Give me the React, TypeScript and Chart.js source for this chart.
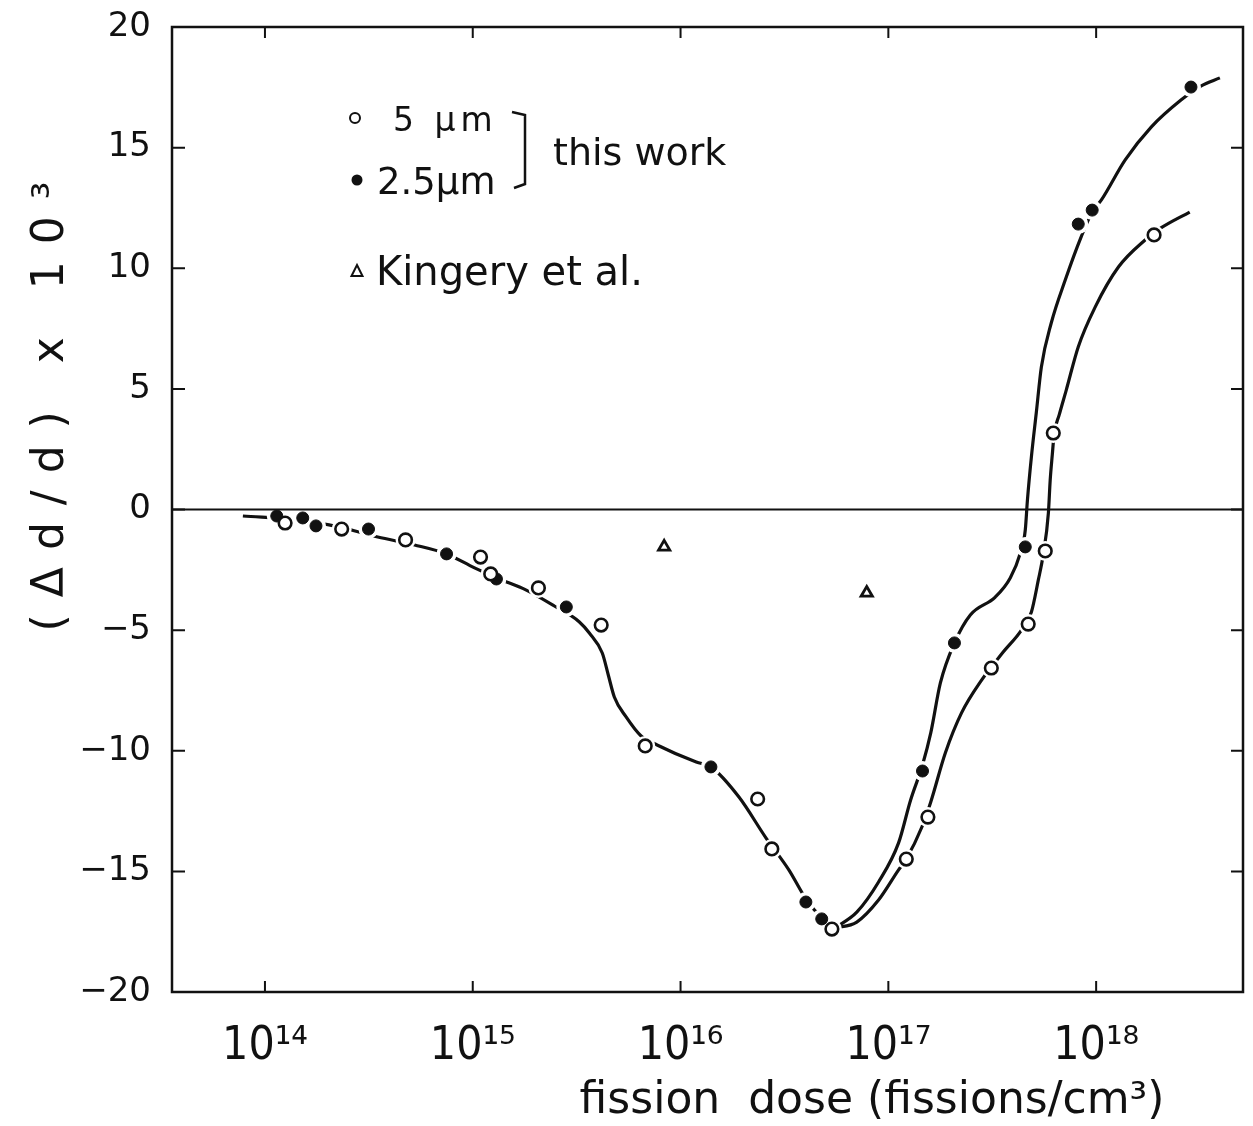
import React, { useEffect, useRef } from "react";
import { Chart, registerables } from "chart.js";

Chart.register(...registerables);

// ---- data (fission dose in fissions/cm3, shift (Δd/d) x 10^3) ----
const openDose = [1.25e14, 2.34e14, 4.75e14, 1.09e15, 1.22e15, 2.07e15, 4.15e15, 6.76e15, 2.35e16, 2.75e16, 5.35e16, 1.22e17, 1.55e17, 3.13e17, 4.71e17, 5.69e17, 6.22e17, 1.9e18];
const openShift = [-0.56, -0.81, -1.26, -1.97, -2.67, -3.25, -4.79, -9.8, -12.0, -14.07, -17.39, -14.49, -12.75, -6.57, -4.75, -1.72, 3.17, 11.38];

const filledDose = [1.14e14, 1.52e14, 1.76e14, 3.15e14, 7.48e14, 1.3e15, 2.82e15, 1.4e16, 4.01e16, 4.78e16, 1.46e17, 2.08e17, 4.56e17, 8.2e17, 9.57e17, 2.86e18];
const filledShift = [-0.27, -0.35, -0.68, -0.81, -1.84, -2.88, -4.04, -10.67, -16.27, -16.97, -10.84, -5.53, -1.55, 11.83, 12.41, 17.51];

const kingeryDose = [8.34e15, 7.87e16];
const kingeryShift = [-1.55, -3.46];

// hand-drawn guide curves
const trunkDose = [7.83e13, 1.47e14, 2.29e14, 3.49e14, 5.25e14, 7.48e14, 1.02e15, 1.34e15, 1.81e15, 2.47e15, 3.26e15, 3.64e15, 4.2e15, 4.49e15, 4.8e15, 5.47e15, 6.46e15, 7.71e15, 1.19e16, 1.4e16, 1.91e16, 2.58e16, 3.32e16, 4.01e16, 4.78e16, 5.52e16];
const trunkShift = [-0.27, -0.44, -0.73, -1.14, -1.47, -1.84, -2.42, -2.88, -3.34, -4.0, -4.66, -5.12, -5.95, -6.86, -7.77, -8.6, -9.39, -9.76, -10.47, -10.67, -11.92, -13.62, -14.94, -16.14, -16.93, -17.35];

const upperDose = [5.52e16, 7.05e16, 8.97e16, 1.12e17, 1.28e17, 1.46e17, 1.6e17, 1.78e17, 2.08e17, 2.48e17, 3.27e17, 3.86e17, 4.32e17, 4.56e17, 4.67e17, 4.88e17, 5.15e17, 5.45e17, 6.08e17, 7.1e17, 8.47e17, 9.57e17, 1.06e18, 1.38e18, 1.84e18, 2.56e18, 3.19e18, 3.94e18];
const upperShift = [-17.35, -16.69, -15.44, -13.82, -12.04, -10.59, -9.26, -7.19, -5.53, -4.37, -3.63, -2.84, -1.8, -0.85, 0.39, 2.18, 4.0, 5.91, 7.73, 9.51, 11.3, 12.33, 12.83, 14.49, 15.85, 16.97, 17.55, 17.89];

const lowerDose = [5.52e16, 7.05e16, 8.97e16, 1.12e17, 1.22e17, 1.45e17, 1.6e17, 1.88e17, 2.25e17, 2.81e17, 3.57e17, 4.37e17, 4.88e17, 5.27e17, 5.56e17, 5.89e17, 6.01e17, 6.15e17, 6.28e17, 6.64e17, 7.18e17, 8.2e17, 9.89e17, 1.28e18, 1.72e18, 2.05e18, 2.82e18];
const lowerShift = [-17.35, -17.1, -16.19, -14.94, -14.49, -13.16, -12.12, -10.09, -8.43, -7.07, -5.91, -5.0, -4.25, -2.92, -1.89, -0.15, 1.22, 2.26, 3.13, 3.92, 4.95, 6.74, 8.39, 10.05, 11.17, 11.67, 12.33];

const xTickValues = [1e14, 1e15, 1e16, 1e17, 1e18];
const xTickLabels = ["10\u00b9\u2074", "10\u00b9\u2075", "10\u00b9\u2076", "10\u00b9\u2077", "10\u00b9\u2078"];
const yTickValues = [-20, -15, -10, -5, 0, 5, 10, 15, 20];
const yTickLabels = ["\u221220", "\u221215", "\u221210", "\u22125", "0", "5", "10", "15", "20"];

const xMin = 3.57e13;
const xMax = 5.09e18;
const yMin = -20;
const yMax = 20;

const xTitle = "fission  dose (fissions/cm\u00b3)";
const yTitle = "(\u0394d/d) x 10\u00b3";
const legendOpen = "5 \u00b5m";
const legendFilled = "2.5\u00b5m";
const legendGroup = "this work";
const legendKingery = "Kingery et al.";

const INK = "#111111";

const pts = (xs: number[], ys: number[]) => xs.map((x, i) => ({ x, y: ys[i] }));

export default function App() {
  const ref = useRef<HTMLCanvasElement | null>(null);

  useEffect(() => {
    const canvas = ref.current;
    if (!canvas) return;

    const HALO_INDEX = 3;

    const decor = {
      id: "decor",
      afterDatasetDraw(chart: any, args: any) {
        if (args.index !== HALO_INDEX) return;
        const { ctx, chartArea } = chart;
        const y0 = chart.scales.y.getPixelForValue(0);
        ctx.save();
        ctx.strokeStyle = INK;
        ctx.lineWidth = 2;
        ctx.beginPath();
        ctx.moveTo(chartArea.left, y0);
        ctx.lineTo(chartArea.right, y0);
        ctx.stroke();
        ctx.restore();
      },
      afterDraw(chart: any) {
        const { ctx, chartArea } = chart;
        const { left, right, top, bottom } = chartArea;
        const xs = chart.scales.x;
        const ys = chart.scales.y;
        ctx.save();
        ctx.strokeStyle = INK;
        ctx.fillStyle = INK;
        ctx.lineWidth = 2.5;
        ctx.strokeRect(left, top, right - left, bottom - top);
        // inward ticks
        ctx.lineWidth = 2;
        ctx.beginPath();
        xTickValues.forEach((v) => {
          const px = xs.getPixelForValue(v);
          ctx.moveTo(px, bottom);
          ctx.lineTo(px, bottom - 11);
          ctx.moveTo(px, top);
          ctx.lineTo(px, top + 11);
        });
        yTickValues.forEach((v) => {
          const py = ys.getPixelForValue(v);
          ctx.moveTo(left, py);
          ctx.lineTo(left + 13, py);
          ctx.moveTo(right, py);
          ctx.lineTo(right - 12, py);
        });
        ctx.stroke();

        // axis titles
        ctx.textBaseline = "alphabetic";
        ctx.textAlign = "center";
        ctx.font = "44px 'DejaVu Sans'";
        ctx.fillText(xTitle, 872, 1113, 585);

        ctx.save();
        ctx.translate(63, 398);
        ctx.rotate(-Math.PI / 2);
        ctx.font = "44px 'DejaVu Sans'";
        (ctx as any).letterSpacing = "17px";
        ctx.fillText(yTitle, 0, 0);
        ctx.restore();

        // legend
        ctx.textAlign = "left";
        ctx.lineWidth = 2;
        ctx.beginPath();
        ctx.arc(355, 118, 5, 0, Math.PI * 2);
        ctx.stroke();
        ctx.beginPath();
        ctx.arc(357, 180, 5.5, 0, Math.PI * 2);
        ctx.fill();
        ctx.beginPath();
        ctx.moveTo(357, 265);
        ctx.lineTo(362.5, 276);
        ctx.lineTo(351.5, 276);
        ctx.closePath();
        ctx.stroke();

        ctx.save();
        ctx.font = "33px 'DejaVu Sans'";
        (ctx as any).letterSpacing = "5px";
        ctx.fillText(legendOpen, 393, 131);
        ctx.restore();
        ctx.font = "37px 'DejaVu Sans'";
        ctx.fillText(legendFilled, 377, 194);
        ctx.font = "38px 'DejaVu Sans'";
        ctx.fillText(legendGroup, 553, 165);
        ctx.font = "40px 'DejaVu Sans'";
        ctx.fillText(legendKingery, 376, 285, 278);

        ctx.lineWidth = 2.5;
        ctx.beginPath();
        ctx.moveTo(512, 112);
        ctx.lineTo(525, 115);
        ctx.lineTo(525, 184);
        ctx.lineTo(514, 188);
        ctx.stroke();
        ctx.restore();
      },
    };

    const curve = (xs: number[], ys: number[]) => ({
      type: "line" as const,
      data: pts(xs, ys),
      borderColor: INK,
      borderWidth: 3.2,
      pointRadius: 0,
      fill: false,
      tension: 0.4,
      cubicInterpolationMode: "monotone" as const,
      showLine: true,
    });

    const chart = new Chart(canvas, {
      type: "scatter",
      data: {
        datasets: [
          {
            label: "5 µm",
            data: pts(openDose, openShift),
            pointStyle: "circle",
            pointRadius: 6.3,
            pointBorderWidth: 2.6,
            borderColor: INK,
            backgroundColor: "#ffffff",
            showLine: false,
          },
          {
            label: "2.5 µm",
            data: pts(filledDose, filledShift),
            pointStyle: "circle",
            pointRadius: 6,
            pointBorderWidth: 1,
            borderColor: INK,
            backgroundColor: INK,
            showLine: false,
          },
          {
            label: "Kingery et al.",
            data: pts(kingeryDose, kingeryShift),
            pointStyle: "triangle",
            pointRadius: 6.5,
            pointBorderWidth: 2.8,
            borderColor: INK,
            backgroundColor: "#ffffff",
            showLine: false,
          },
          {
            label: "halo",
            data: pts(openDose.concat(filledDose), openShift.concat(filledShift)),
            pointStyle: "circle",
            pointRadius: 10,
            pointBorderWidth: 0,
            borderColor: "#ffffff",
            backgroundColor: "#ffffff",
            showLine: false,
          },
          curve(lowerDose, lowerShift),
          curve(upperDose, upperShift),
          curve(trunkDose, trunkShift),
        ] as any,
      },
      options: {
        responsive: false,
        animation: false,
        events: [],
        layout: { padding: { top: 27, right: 8, left: 0, bottom: 0 } },
        plugins: {
          legend: { display: false },
          tooltip: { enabled: false },
          title: { display: false },
        },
        scales: {
          x: {
            type: "logarithmic",
            min: xMin,
            max: xMax,
            grid: { display: false, drawTicks: false },
            border: { display: false },
            afterBuildTicks: (scale: any) => {
              scale.ticks = xTickValues.map((v) => ({ value: v }));
            },
            afterFit: (scale: any) => {
              scale.height = 134;
              scale.paddingLeft = 0;
              scale.paddingRight = 0;
            },
            ticks: {
              autoSkip: false,
              maxRotation: 0,
              padding: 27,
              color: INK,
              font: { family: "'Liberation Sans Narrow', 'DejaVu Sans Condensed', 'DejaVu Sans'", size: 46 },
              callback: (v: any) => {
                const i = xTickValues.indexOf(Number(v));
                return i >= 0 ? xTickLabels[i] : "";
              },
            },
          },
          y: {
            type: "linear",
            min: yMin,
            max: yMax,
            grid: { display: false, drawTicks: false },
            border: { display: false },
            afterBuildTicks: (scale: any) => {
              scale.ticks = yTickValues.map((v) => ({ value: v }));
            },
            afterFit: (scale: any) => {
              scale.width = 172;
              scale.paddingTop = 0;
              scale.paddingBottom = 0;
            },
            ticks: {
              autoSkip: false,
              padding: 21,
              color: INK,
              font: { family: "'DejaVu Sans'", size: 34 },
              callback: (v: any) => {
                const i = yTickValues.indexOf(Number(v));
                return i >= 0 ? yTickLabels[i] : "";
              },
            },
          },
        },
      } as any,
      plugins: [decor],
    });

    return () => chart.destroy();
  }, []);

  return (
    <div style={{ position: "absolute", left: 0, top: 0, width: 1253, height: 1126, background: "#ffffff" }}>
      <canvas ref={ref} width={1253} height={1126} style={{ display: "block" }} />
    </div>
  );
}
